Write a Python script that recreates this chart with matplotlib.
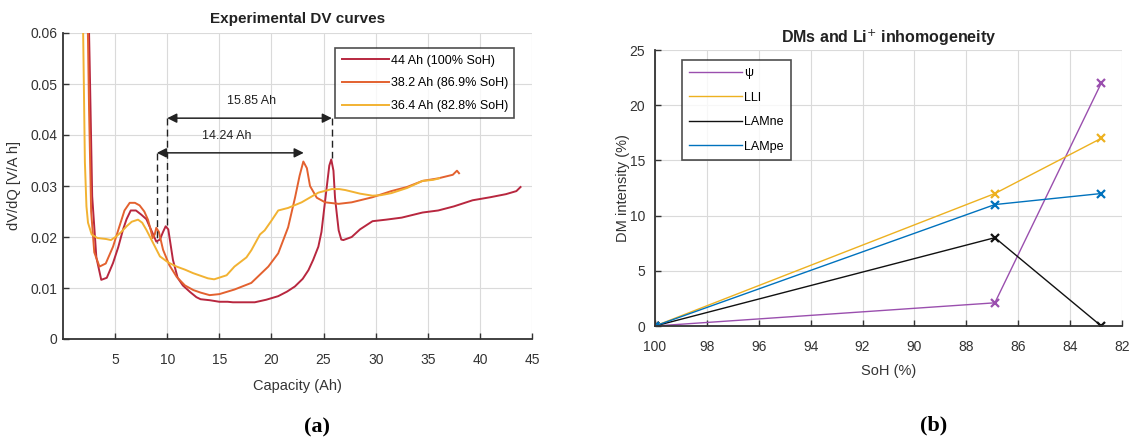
import matplotlib
matplotlib.use("Agg")
import matplotlib.pyplot as plt

plt.rcParams['font.family'] = ['Liberation Sans', 'DejaVu Sans']

# ---------------- data: (a) experimental DV curves ----------------
cap_44 = [2.45, 2.55, 2.8, 3.2, 3.67, 4.2, 4.8, 5.3, 5.75, 6.1, 6.5, 7.0, 7.5, 8.0, 8.3, 8.65,
          8.95, 9.3, 9.6, 9.85, 10.1, 10.55, 11.0, 11.5, 12.2, 12.8, 13.2, 14.1, 15.0, 15.8,
          16.3, 17.0, 18.4, 19.5, 20.65, 21.5, 22.25, 23.0, 23.55, 24.0, 24.5, 24.8, 25.0,
          25.3, 25.55, 25.74, 25.95, 26.1, 26.3, 26.45, 26.7, 26.9, 27.3, 27.7, 28.5, 29.7,
          31.0, 32.5, 34.5, 36.0, 37.5, 39.3, 41.0, 42.5, 43.5, 43.9]
dv_44 = [0.065, 0.055, 0.028, 0.016, 0.0116, 0.012, 0.0149, 0.018, 0.0214, 0.0235, 0.0252,
         0.0252, 0.0244, 0.0235, 0.0221, 0.0205, 0.0191, 0.0195, 0.021, 0.0221, 0.0215,
         0.0155, 0.012, 0.0105, 0.0092, 0.0082, 0.0078, 0.0076, 0.0073, 0.0073, 0.0072,
         0.0072, 0.0072, 0.0077, 0.0084, 0.0093, 0.0103, 0.0118, 0.0135, 0.0155, 0.0181,
         0.021, 0.0245, 0.0297, 0.034, 0.0352, 0.033, 0.0277, 0.024, 0.0213, 0.0195, 0.0194,
         0.0197, 0.020, 0.0215, 0.0231, 0.0234, 0.0238, 0.0248, 0.0252, 0.026, 0.0272,
         0.0278, 0.0284, 0.029, 0.0298]

cap_38 = [2.35, 2.5, 2.7, 3.0, 3.5, 4.1, 4.8, 5.4, 5.9, 6.4, 6.9, 7.35, 7.8, 8.15, 8.4, 8.6,
          8.8, 8.95, 9.2, 9.6, 10.2, 10.9, 11.7, 12.5, 13.2, 14.07, 15.0, 16.45, 18.07, 19.7,
          20.65, 21.6, 22.26, 22.7, 23.06, 23.4, 23.7, 24.35, 25.15, 26.45, 27.7, 29.7, 31.5,
          33.0, 34.5, 36.0, 37.4, 37.8, 38.0]
dv_38 = [0.065, 0.045, 0.025, 0.017, 0.0142, 0.0148, 0.0181, 0.022, 0.0252, 0.0267, 0.0267,
         0.0262, 0.025, 0.0234, 0.0215, 0.0198, 0.0205, 0.0218, 0.021, 0.0175, 0.0145,
         0.0122, 0.0105, 0.0096, 0.0091, 0.0086, 0.0088, 0.0097, 0.011, 0.0142, 0.0168,
         0.0219, 0.0277, 0.032, 0.0348, 0.0335, 0.030, 0.0277, 0.0268, 0.0265, 0.0268,
         0.0278, 0.029, 0.0298, 0.031, 0.0315, 0.0322, 0.033, 0.0325]

cap_36 = [1.9, 2.0, 2.1, 2.25, 2.4, 2.75, 3.3, 4.15, 4.6, 5.1, 5.6, 6.1, 6.6, 7.2, 7.6, 8.0,
          8.6, 9.3, 10.1, 10.9, 11.7, 12.5, 13.2, 13.9, 14.5, 15.7, 16.45, 17.6, 18.07, 18.9,
          19.35, 20.0, 20.65, 21.6, 22.9, 24.5, 25.8, 26.5, 27.1, 28.5, 29.7, 30.5, 31.5,
          33.0, 34.5, 35.5, 36.1]
dv_36 = [0.065, 0.05, 0.0347, 0.026, 0.0228, 0.0205, 0.0198, 0.0196, 0.0194, 0.0201, 0.021,
         0.0221, 0.023, 0.0234, 0.0228, 0.0214, 0.019, 0.0162, 0.015, 0.0142, 0.0136,
         0.0129, 0.0124, 0.0119, 0.0117, 0.0125, 0.0142, 0.016, 0.0174, 0.0205, 0.0213,
         0.0232, 0.0252, 0.0257, 0.0268, 0.0287, 0.0294, 0.0294, 0.0292, 0.0285, 0.0281,
         0.0282, 0.0286, 0.0296, 0.031, 0.0312, 0.0315]

dv_labels = ['44 Ah (100% SoH)', '38.2 Ah (86.9% SoH)', '36.4 Ah (82.8% SoH)']
dv_colors = ['#b8273f', '#e3612f', '#f2b232']

# peak-shift annotations: (left x, right x, y, text, text x)
shift_upper = (10.0, 25.8, 0.0433, '15.85 Ah', 18.1)
shift_lower = (9.0, 23.1, 0.0365, '14.24 Ah', 15.75)

# ---------------- data: (b) DMs vs SoH ----------------
soh = [100, 86.9, 82.8]
dm_psi = [0, 2.1, 22]
dm_lli = [0, 12, 17]
dm_lamne = [0, 8, 0]
dm_lampe = [0, 11, 12]
dm_labels = ['ψ', 'LLI', 'LAMne', 'LAMpe']
dm_colors = ['#9a4fae', '#edb120', '#111111', '#0072bd']

W, H = 1131, 443
fig = plt.figure(figsize=(W / 100, H / 100), dpi=100)

def frac(l, t, r, b):
    return [l / W, 1 - b / H, (r - l) / W, (b - t) / H]

grid_kw = dict(color='#dadada', linewidth=0.8)
tick_fs = 10
lab_fs = 10.5

# ---------------- (a) ----------------
ax1 = fig.add_axes(frac(63, 33, 532, 339))
for x, y, lab, c in zip([cap_44, cap_38, cap_36], [dv_44, dv_38, dv_36], dv_labels, dv_colors):
    ax1.plot(x, y, color=c, lw=1.4, label=lab)
ax1.set_xlim(0, 45)
ax1.set_ylim(0, 0.06)
ax1.set_xticks([5, 10, 15, 20, 25, 30, 35, 40, 45])
ax1.set_yticks([0, 0.01, 0.02, 0.03, 0.04, 0.05, 0.06])
ax1.set_yticklabels(['0', '0.01', '0.02', '0.03', '0.04', '0.05', '0.06'])
ax1.grid(True, **grid_kw)
ax1.set_axisbelow(True)
ax1.set_title('Experimental DV curves', fontsize=11, fontweight='bold', pad=7, color='#222222')
ax1.set_xlabel('Capacity (Ah)', fontsize=lab_fs, color='#333333', labelpad=9)
ax1.set_ylabel('dV/dQ [V/A h]', fontsize=lab_fs, color='#333333', labelpad=7)
leg1 = ax1.legend(loc='upper right', bbox_to_anchor=(0.976, 0.97), fontsize=9, frameon=True,
                  fancybox=False, edgecolor='#222222', handlelength=3.8, labelspacing=0.85,
                  borderpad=0.5, handletextpad=0.15)
leg1.get_frame().set_linewidth(1.2)

arrow_kw = dict(arrowstyle='<|-|>', color='#222222', lw=1.1, mutation_scale=14, shrinkA=0, shrinkB=0)
for (xl, xr, yy, txt, tx) in [shift_upper, shift_lower]:
    ax1.annotate('', xy=(xl, yy), xytext=(xr, yy), arrowprops=arrow_kw)
    ax1.text(tx, yy + 0.0021, txt, fontsize=9, ha='center', va='bottom', color='#222222')
ax1.plot([9.0, 9.0], [0.0365, 0.0188], ls=(0, (5, 3)), color='#222222', lw=1.0)
ax1.plot([10.0, 10.0], [0.0433, 0.022], ls=(0, (5, 3)), color='#222222', lw=1.0)
ax1.plot([25.8, 25.8], [0.0433, 0.0355], ls=(0, (5, 3)), color='#222222', lw=1.0)

# ---------------- (b) ----------------
ax2 = fig.add_axes(frac(655, 50, 1122, 326))
for y, lab, c in zip([dm_psi, dm_lli, dm_lamne, dm_lampe], dm_labels, dm_colors):
    ax2.plot(soh, y, color=c, lw=1.0, marker='x', ms=6, mew=1.6, label=lab)
ax2.set_xlim(100, 82)
ax2.set_ylim(0, 25)
ax2.set_xticks([100, 98, 96, 94, 92, 90, 88, 86, 84, 82])
ax2.set_yticks([0, 5, 10, 15, 20, 25])
ax2.grid(True, **grid_kw)
ax2.set_axisbelow(True)
ax2.set_title('DMs and Li$^{+}$ inhomogeneity', fontsize=11.5, fontweight='bold', pad=5, color='#222222')
ax2.set_xlabel('SoH (%)', fontsize=lab_fs, color='#333333', labelpad=7)
ax2.set_ylabel('DM intensity (%)', fontsize=lab_fs, color='#333333', labelpad=0)
leg2 = ax2.legend(loc='upper left', bbox_to_anchor=(0.045, 0.985), fontsize=9, frameon=True,
                  fancybox=False, edgecolor='#222222', handlelength=4.2, labelspacing=1.0,
                  borderpad=0.55, handletextpad=0.2)
leg2.get_frame().set_linewidth(1.2)
for line in leg2.get_lines():
    line.set_marker('')

for ax in (ax1, ax2):
    for s in ('top', 'right'):
        ax.spines[s].set_visible(False)
    for s in ('left', 'bottom'):
        ax.spines[s].set_color('#333333')
        ax.spines[s].set_linewidth(1.3)
    ax.tick_params(direction='in', length=4, width=1.0, labelsize=tick_fs, colors='#333333')
    ax.tick_params(axis='x', pad=10)
ax1.tick_params(axis='y', pad=4)
ax2.tick_params(axis='y', pad=7)

fig.text(317 / W, 1 - 427 / H, '(a)', fontsize=16, fontweight='bold', family='Liberation Serif',
         ha='center', va='center')
fig.text(934 / W, 1 - 425 / H, '(b)', fontsize=16, fontweight='bold', family='Liberation Serif',
         ha='center', va='center')

fig.savefig('out.png', dpi=100)
